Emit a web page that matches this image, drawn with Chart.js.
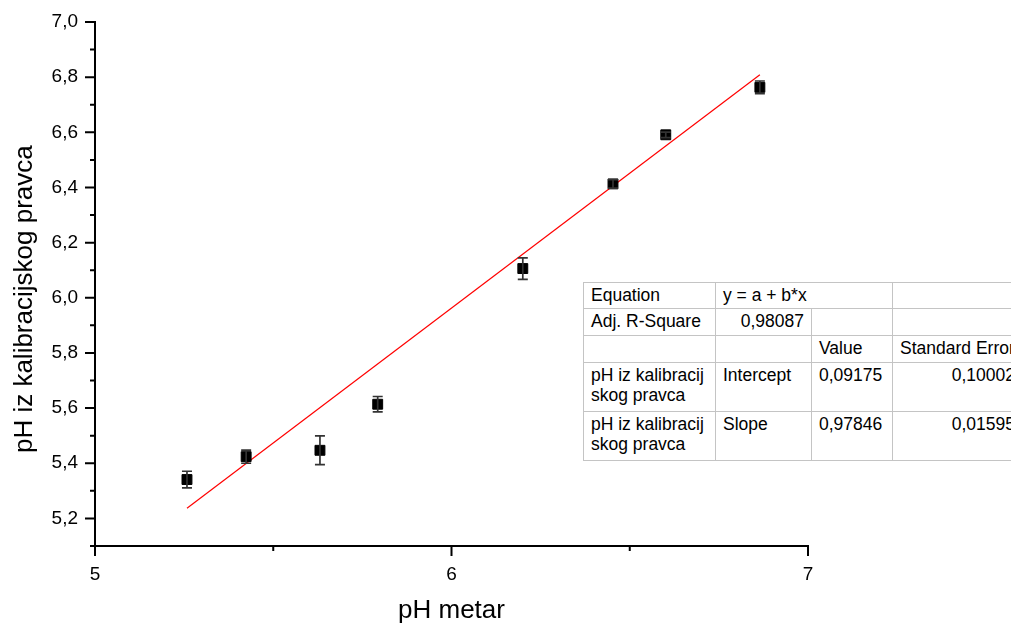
<!DOCTYPE html>
<html>
<head>
<meta charset="utf-8">
<script src="https://cdn.jsdelivr.net/npm/chart.js@4.4.1/dist/chart.umd.min.js"></script>
<style>
  html, body { margin: 0; padding: 0; background: #fff; overflow: hidden; }
  #wrap { position: relative; width: 1011px; height: 626px; overflow: hidden; }
  #fit {
    position: absolute; left: 583px; top: 282px; width: 439px;
    border-collapse: collapse; table-layout: fixed;
    font-family: "Liberation Sans", Arial, sans-serif; font-size: 17.5px; color: #000;
    border: 1px solid #444; background: #fff;
  }
  #fit td { border: 1px solid #c4c4c4; padding: 2px 7px 0 7px; vertical-align: top; line-height: 20px; white-space: nowrap; overflow: hidden; }
  #fit td.r { text-align: right; }
</style>
</head>
<body>
<div id="wrap">
  <canvas id="myChart" width="1011" height="626"></canvas>
  <table id="fit">
    <colgroup><col style="width:132px"><col style="width:96px"><col style="width:81px"><col style="width:130px"></colgroup>
    <tr style="height:26px"><td>Equation</td><td colspan="2">y = a + b*x</td><td></td></tr>
    <tr style="height:27px"><td>Adj. R-Square</td><td class="r">0,98087</td><td></td><td></td></tr>
    <tr style="height:27px"><td></td><td></td><td>Value</td><td>Standard Error</td></tr>
    <tr style="height:49px"><td>pH iz kalibracij<br>skog pravca</td><td>Intercept</td><td>0,09175</td><td class="r">0,10002</td></tr>
    <tr style="height:49px"><td>pH iz kalibracij<br>skog pravca</td><td>Slope</td><td>0,97846</td><td class="r">0,01595</td></tr>
  </table>
</div>
<script>
// izmjereni podaci
var phMetar = [5.258, 5.424, 5.631, 5.793, 6.200, 6.453, 6.601, 6.865];
var phKalib = [5.341, 5.424, 5.447, 5.614, 6.106, 6.413, 6.591, 6.763];
var greska = [0.030, 0.024, 0.052, 0.028, 0.039, 0.015, 0.010, 0.023];

// linearni fit (krajnje tocke)
var fitX = [5.258, 6.865];
var fitY = [5.237, 6.809];

// oznake na osima
var xMajor = [5, 6, 7];
var xMinor = [5.5, 6.5];
var yMajor = [5.2, 5.4, 5.6, 5.8, 6.0, 6.2, 6.4, 6.6, 6.8, 7.0];
var yMinor = [5.1, 5.3, 5.5, 5.7, 5.9, 6.1, 6.3, 6.5, 6.7, 6.9];

var yNaslov = "pH iz kalibracijskog pravca";
var font = "'Liberation Sans', Arial, sans-serif";

function zarez(v, d) {
    return Number(v).toFixed(d).replace(".", ",");
}

// error bars, tick marks, naslov y osi
var crtanje = {
    id: "crtanje",
    afterDatasetsDraw: function (chart) {
        var c = chart.ctx, xs = chart.scales.x, ys = chart.scales.y;
        c.save();
        c.strokeStyle = "#333";
        c.lineWidth = 1.7;
        for (var i = 0; i < phMetar.length; i++) {
            var px = xs.getPixelForValue(phMetar[i]);
            var top = ys.getPixelForValue(phKalib[i] + greska[i]);
            var bot = ys.getPixelForValue(phKalib[i] - greska[i]);
            c.beginPath();
            c.moveTo(px, top); c.lineTo(px, bot);
            c.moveTo(px - 5, top); c.lineTo(px + 5, top);
            c.moveTo(px - 5, bot); c.lineTo(px + 5, bot);
            c.stroke();
        }
        c.restore();
    },
    afterDraw: function (chart) {
        var c = chart.ctx, xs = chart.scales.x, ys = chart.scales.y;
        var a = chart.chartArea;
        c.save();
        c.strokeStyle = "#000";
        c.lineWidth = 2;
        c.beginPath();
        yMajor.forEach(function (v) { var p = ys.getPixelForValue(v); c.moveTo(a.left - 10, p); c.lineTo(a.left, p); });
        yMinor.forEach(function (v) { var p = ys.getPixelForValue(v); c.moveTo(a.left - 5, p); c.lineTo(a.left, p); });
        xMajor.forEach(function (v) { var p = xs.getPixelForValue(v); c.moveTo(p, a.bottom); c.lineTo(p, a.bottom + 10); });
        xMinor.forEach(function (v) { var p = xs.getPixelForValue(v); c.moveTo(p, a.bottom); c.lineTo(p, a.bottom + 5); });
        c.stroke();
        // naslov y osi, malo ispod sredine osi kao u originalu
        c.translate(25, ys.getPixelForValue(5.995));
        c.rotate(-Math.PI / 2);
        c.fillStyle = "#000";
        c.font = "26px " + font;
        c.textAlign = "center";
        c.textBaseline = "middle";
        c.fillText(yNaslov, 0, 0);
        c.restore();
    }
};

var ctx = document.getElementById("myChart").getContext("2d");
var myChart = new Chart(ctx, {
    type: "scatter",
    data: {
        datasets: [{
            label: yNaslov,
            data: phMetar.map(function (x, i) { return { x: x, y: phKalib[i] }; }),
            pointStyle: "rect",
            pointRadius: 7,
            backgroundColor: "#000",
            borderColor: "#000",
            borderWidth: 1,
        }, {
            label: "fit",
            data: fitX.map(function (x, i) { return { x: x, y: fitY[i] }; }),
            showLine: true,
            borderColor: "#ff0000",
            borderWidth: 1.2,
            pointRadius: 0,
        }],
    },
    options: {
        responsive: false,
        animation: false,
        layout: { padding: { top: 22, right: 203, left: 0, bottom: 0 } },
        plugins: { legend: { display: false }, tooltip: { enabled: false } },
        scales: {
            x: {
                type: "linear",
                min: 5, max: 7,
                afterFit: function (s) { s.height = 80; },
                afterBuildTicks: function (s) { s.ticks = xMajor.map(function (v) { return { value: v }; }); },
                grid: { display: false, drawTicks: false },
                border: { display: true, color: "#000", width: 2 },
                ticks: { padding: 17, color: "#000", font: { family: font, size: 19 }, callback: function (v) { return zarez(v, 0); } },
                title: { display: true, text: "pH metar", color: "#000", font: { family: font, size: 26 }, padding: { top: 0, bottom: 0 } },
            },
            y: {
                type: "linear",
                min: 5.1, max: 7.0,
                afterFit: function (s) { s.width = 95; s.paddingTop = 0; s.paddingBottom = 0; },
                afterBuildTicks: function (s) { s.ticks = yMajor.map(function (v) { return { value: v }; }); },
                grid: { display: false, drawTicks: false },
                border: { display: true, color: "#000", width: 2 },
                ticks: { padding: 17, color: "#000", font: { family: font, size: 19 }, callback: function (v) { return zarez(v, 1); } },
                title: { display: false },
            },
        },
    },
    plugins: [crtanje],
});
</script>
</body>
</html>
